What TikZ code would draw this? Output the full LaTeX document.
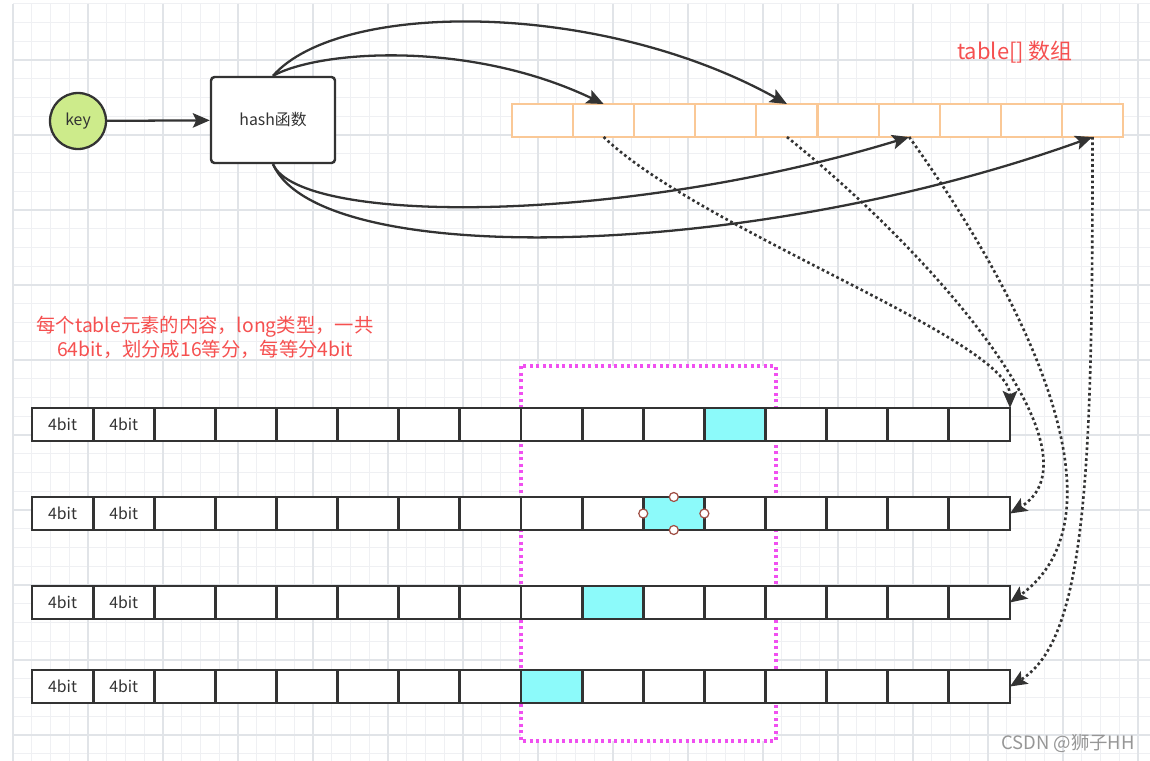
\documentclass[tikz,border=0pt]{standalone}
\usepackage{fontspec}
\setmainfont{Noto Sans CJK SC}
\usetikzlibrary{arrows.meta}
\definecolor{ink}{RGB}{51,51,51}
\definecolor{keygreen}{RGB}{205,235,139}
\definecolor{tabline}{RGB}{250,200,150}
\definecolor{hit}{RGB}{140,250,250}
\definecolor{notered}{RGB}{245,80,80}
\definecolor{selpink}{RGB}{240,80,240}
\definecolor{gridminor}{RGB}{239,240,243}
\definecolor{gridmajor}{RGB}{225,228,232}

\begin{document}
\begin{tikzpicture}[x=0.02cm, y=-0.02cm, >={Stealth[length=3.4mm,width=2.9mm,inset=0.7mm]}, font=\fontsize{9}{11}\selectfont]
		\tikzset{keynode/.style={draw=ink, line width=1.3pt, circle, fill=keygreen, minimum size=1.12cm, inner sep=0pt, text=ink},
			hashbox/.style={draw=ink, line width=1.4pt, rounded corners=2pt, fill=white, minimum width=2.48cm, minimum height=1.72cm, text=ink},
			tcell/.style={draw=tabline, line width=1.2pt, fill=white, minimum width=1.222cm, minimum height=0.66cm, inner sep=0pt, outer sep=0pt},
			bcell/.style={draw=ink, line width=1.6pt, fill=white, minimum width=1.2225cm, minimum height=0.66cm, inner sep=0pt, outer sep=0pt},
			bittxt/.style={text=ink, inner sep=0pt},
			handle/.style={draw={rgb,255:red,160;green,80;blue,70}, line width=0.7pt, fill=white, circle, minimum size=0.18cm, inner sep=0pt},
			link/.style={draw=ink, line width=1.3pt},
			dots/.style={draw=ink, line width=1.5pt, dash pattern=on 1.5pt off 1.6pt},
			selbox/.style={draw=selpink, line width=1.8pt, dash pattern=on 1.8pt off 1.9pt, fill=white},
			note/.style={text=notered, align=center, font=\fontsize{11}{13.7}\selectfont},
			wmark/.style={text={rgb,255:red,150;green,150;blue,150}, font=\fontsize{10.5}{12}\selectfont}}
		\useasboundingbox (0,0) rectangle (1150,761);
		% background grid
		\foreach \k in {0,...,60}
			\draw[gridminor, line width=0.5pt] ({13+18.75*\k},3.75) -- ({13+18.75*\k},761);
		\foreach \k in {0,...,40}
			\draw[gridminor, line width=0.5pt] (13,{3.75+18.75*\k}) -- (1150,{3.75+18.75*\k});
		\foreach \k in {0,...,15}
			\draw[gridmajor, line width=0.6pt] ({13+75*\k},3.75) -- ({13+75*\k},761);
		\foreach \k in {0,...,9}
			\draw[gridmajor, line width=0.6pt] (13,{60+75*\k}) -- (1150,{60+75*\k});
		% key and hash
		\node[keynode] (key) at (78,121) {key};
		\node[hashbox] (hash) at (273,120) {hash函数};
		\draw[link,->] (key) -- (hash);
		% table[]
		\foreach \i in {1,...,10}
			\node[tcell] (t\i) at ({512+61.1*(\i-0.5)},120.5) {};
		\node[note, font=\fontsize{12.5}{14}\selectfont] (tlabel) at (1015,52) {table[] 数组};
		\draw[link,->] (hash.north) .. controls (320,50) and (470,40) .. (t2.north);
		\draw[link,->] (hash.north) .. controls (340,0) and (600,0) .. (t5.north);
		\draw[link,->] (hash.south) .. controls (300,225) and (620,225) .. (t7.south);
		\draw[link,->] (hash.south) .. controls (320,270) and (750,260) .. (t10.south);
		% long rows
		\node[note] (note) at (205,337) {每个table元素的内容，long类型，一共\\64bit，划分成16等分，每等分4bit};
		\draw[selbox] (521,366) rectangle (776,741);
		\foreach \r/\y in {1/424.5,2/513.5,3/602.5,4/686.5}
			\foreach \c in {1,...,16}
				\node[bcell] (r\r-\c) at ({32+61.125*(\c-0.5)},\y) {};
		\foreach \r in {1,...,4}
			\foreach \c in {1,2}
				\node[bittxt] (b\r-\c) at (r\r-\c) {4bit};
		\foreach \r/\c in {1/12,2/11,3/10,4/9}
			\node[bcell, fill=hit] (h\r) at (r\r-\c) {};
		\foreach \a in {north,south,east,west}
			\node[handle] (hd-\a) at (h2.\a) {};
		% table element -> row
		\draw[dots,->] (t2.south) .. controls (700,230) and (1010,340) .. (r1-16.north east);
		\draw[dots,->] (t5.south) .. controls (940,260) and (1105,455) .. (r2-16.east);
		\draw[dots,->] (t7.south) .. controls (1040,320) and (1125,520) .. (r3-16.east);
		\draw[dots,->] (t10.south) .. controls (1093,480) and (1085,640) .. (r4-16.east);
		\node[wmark] (csdn) at (1068,743) {CSDN @狮子HH};
	\end{tikzpicture}
\end{document}
